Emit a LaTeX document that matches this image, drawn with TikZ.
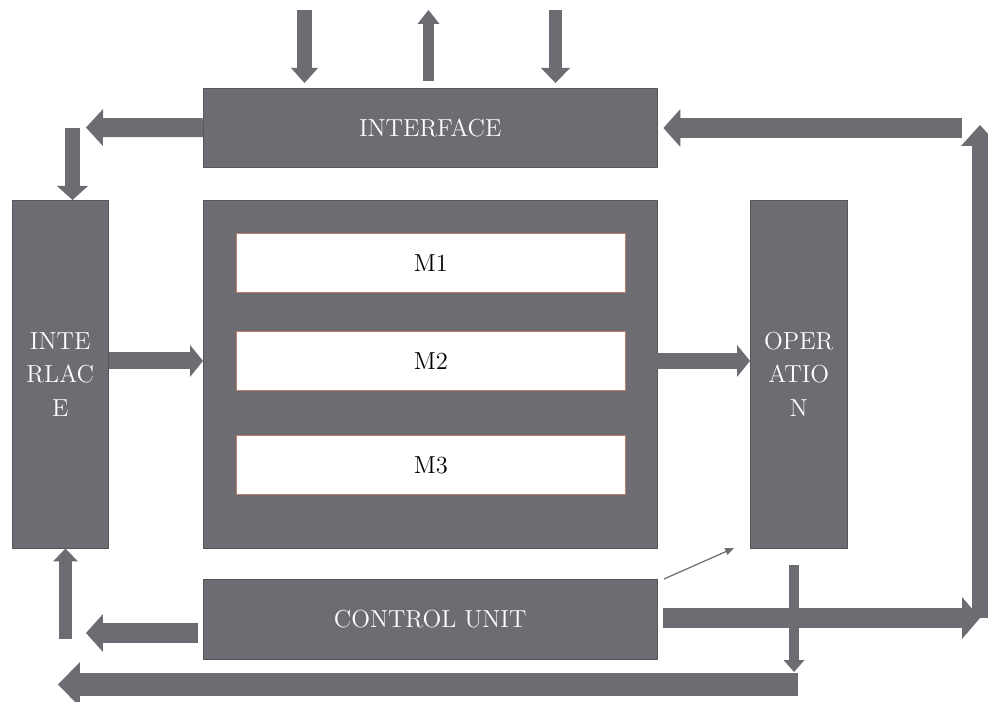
\documentclass[tikz,border=0pt]{standalone}
\usetikzlibrary{arrows.meta}
\definecolor{boxgray}{RGB}{109,108,114}
\definecolor{mborder}{RGB}{190,128,108}
\begin{document}
\begin{tikzpicture}[x=0.02cm, y=-0.02cm,
    blk/.style={fill=boxgray, draw=boxgray!80!black, line width=0.3pt, inner sep=0pt,
        anchor=north west, text=white, align=center, font=\fontsize{14}{19}\selectfont},
    modbox/.style={fill=white, draw=mborder, line width=0.5pt, inner sep=0pt,
        anchor=north west, minimum width=7.78cm, minimum height=1.18cm,
        font=\fontsize{14}{16}\selectfont},
    barrow/.style n args={3}{draw=boxgray, line width=#1,
        -{Triangle[width=#2, length=#3, line width=0pt]}}]
    \useasboundingbox (0,0) rectangle (988,702);

    % blocks
    \node[blk, minimum width=9.08cm, minimum height=1.58cm] (iface) at (203,88) {INTERFACE};
    \node[blk, minimum width=1.92cm, minimum height=6.96cm] (ilace) at (12,200) {INTE\\RLAC\\E};
    \node[blk, minimum width=9.08cm, minimum height=6.96cm] (core) at (203,200) {};
    \node[blk, minimum width=1.94cm, minimum height=6.96cm] (oper) at (750,200) {OPER\\ATIO\\N};
    \node[blk, minimum width=9.08cm, minimum height=1.6cm] (cu) at (203,579) {CONTROL UNIT};
    \node[modbox] (m1) at (236,233) {M1};
    \node[modbox] (m2) at (236,331) {M2};
    \node[modbox] (m3) at (236,435) {M3};

    % free ends
    \coordinate (t1) at (304.5,10);
    \coordinate (t2) at (428.5,10);
    \coordinate (t3) at (555.5,10);
    \coordinate (l1) at (86,127.5);
    \coordinate (l2) at (72.5,128);
    \coordinate (b1) at (65.5,639);
    \coordinate (b2) at (86,633);
    \coordinate (b3) at (798,684.5);
    \coordinate (b4) at (58,684.5);
    \coordinate (b5) at (794,565);
    \coordinate (r1) at (980,618);
    \coordinate (r2) at (980,125);
    \coordinate (r3) at (962,128);
    \coordinate (p1) at (664,579);
    \coordinate (p2) at (734,548);

    % top
    \draw[barrow={0.30cm}{0.54cm}{0.30cm}, shorten >=0.1cm] (t1) -- (t1 |- iface.north);
    \draw[barrow={0.22cm}{0.44cm}{0.28cm}, shorten <=0.14cm] (t2 |- iface.north) -- (t2);
    \draw[barrow={0.26cm}{0.58cm}{0.30cm}, shorten >=0.1cm] (t3) -- (t3 |- iface.north);
    \draw[barrow={0.38cm}{0.74cm}{0.34cm}] (iface.west) -- (l1);
    \draw[barrow={0.30cm}{0.62cm}{0.28cm}] (l2) -- (l2 |- ilace.north);

    % middle
    \draw[barrow={0.34cm}{0.64cm}{0.26cm}] (ilace.east |- m2) -- (core.west |- m2);
    \draw[barrow={0.32cm}{0.64cm}{0.26cm}] (core.east |- m2) -- (oper.west |- m2);

    % bottom
    \draw[barrow={0.26cm}{0.50cm}{0.26cm}] (b1) -- (b1 |- ilace.south);
    \draw[barrow={0.40cm}{0.76cm}{0.34cm}, shorten <=0.1cm] (cu.west |- b2) -- (b2);
    \draw[barrow={0.46cm}{0.90cm}{0.44cm}] (b3) -- (b4);
    \draw[barrow={0.20cm}{0.42cm}{0.24cm}, shorten >=0.25cm] (b5) -- (b5 |- b3);
    \draw[barrow={0.34cm}{0.76cm}{0.42cm}] (r1) -- (r2);
    \draw[barrow={0.40cm}{0.84cm}{0.36cm}, shorten <=0.12cm] (cu.east |- r1) -- (r1);
    \draw[barrow={0.40cm}{0.76cm}{0.34cm}, shorten >=0.12cm] (r3) -- (r3 -| iface.east);
    \draw[boxgray, line width=0.7pt, -{Triangle[length=5pt, width=4pt]}] (p1) -- (p2);
\end{tikzpicture}
\end{document}
